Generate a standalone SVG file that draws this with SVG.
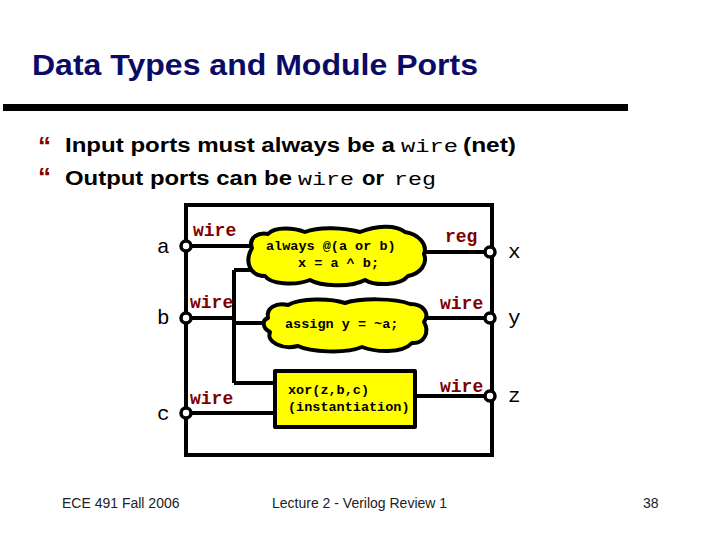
<svg xmlns="http://www.w3.org/2000/svg" width="720" height="540" viewBox="0 0 720 540">
<style>
.title{font-family:"Liberation Sans",Arial,sans-serif;font-weight:bold;font-size:30px;fill:#0b0b66}
.bul{font-family:"Liberation Sans",Arial,sans-serif;font-weight:bold;font-size:20px;fill:#000}
.bm{font-family:"Liberation Mono","Courier New",monospace;font-weight:normal;font-size:19px;fill:#000}
.mark{font-family:"Liberation Sans",Arial,sans-serif;font-weight:bold;font-size:26px;fill:#800000}
.foot{font-family:"Liberation Sans",Arial,sans-serif;font-size:14px;fill:#222}
.port{font-family:"Liberation Mono","Courier New",monospace;font-size:21px;fill:#000}
.lbl{font-family:"Liberation Mono","Courier New",monospace;font-weight:bold;font-size:18px;fill:#800000}
.code{font-family:"Liberation Mono","Courier New",monospace;font-weight:bold;font-size:13.5px;fill:#000}
.w{stroke:#000;stroke-width:4;fill:none}
.cloud{fill:#ffff00;stroke:#000;stroke-width:4;stroke-linejoin:round}
.pc{fill:#fff;stroke:#000;stroke-width:3.5}
</style>
<rect width="720" height="540" fill="#fff"/>
<text class="title" x="32" y="75" textLength="446" lengthAdjust="spacingAndGlyphs">Data Types and Module Ports</text>
<rect x="3" y="104" width="625" height="7" fill="#000"/>
<text class="mark" x="38" y="155">“</text>
<text class="bul" x="65" y="152" textLength="330" lengthAdjust="spacingAndGlyphs">Input ports must always be a</text>
<text class="bm" x="401" y="152" textLength="57" lengthAdjust="spacingAndGlyphs">wire</text>
<text class="bul" x="463" y="152" textLength="53" lengthAdjust="spacingAndGlyphs">(net)</text>
<text class="mark" x="38" y="186">“</text>
<text class="bul" x="65" y="185" textLength="227" lengthAdjust="spacingAndGlyphs">Output ports can be</text>
<text class="bm" x="298" y="185" textLength="56" lengthAdjust="spacingAndGlyphs">wire</text>
<text class="bul" x="362" y="185" textLength="22" lengthAdjust="spacingAndGlyphs">or</text>
<text class="bm" x="394" y="185" textLength="42" lengthAdjust="spacingAndGlyphs">reg</text>

<g id="connectors">
<rect id="module" class="w" x="186" y="205" width="306" height="250"/>
<path class="w" d="M186,246H262 M186,318H234 M234,270V383 M234,270H262 M234,323H272 M234,383H275 M186,413H275 M418,252H490 M420,318H490 M415,396H490"/>
</g>

<g id="cloud1">
<path class="cloud" d="M252,248 C248,238 258,232 268,234 C275,226 295,228 305,232 C320,226 345,228 360,232 C375,226 395,224 405,232 C418,234 428,244 424,254 C428,264 420,274 408,276 C400,286 375,286 365,280 C350,288 320,286 310,280 C295,286 270,284 265,276 C250,276 244,262 252,248 Z"/>
<text class="code" x="266" y="250">always @(a or b)</text>
<text class="code" x="298" y="267">x = a ^ b;</text>
</g>
<g id="cloud2">
<path class="cloud" d="M268,318 C266,308 276,302 288,305 C300,298 330,298 345,303 C360,298 395,298 410,304 C424,304 430,314 424,322 C430,332 424,344 412,343 C402,354 375,352 362,347 C345,354 310,352 298,346 C282,350 266,342 270,332 C262,328 262,320 268,318 Z"/>
<text class="code" x="285" y="328">assign y = ~a;</text>
</g>
<g id="xor">
<rect class="cloud" x="275" y="371" width="140" height="56" stroke-linejoin="miter"/>
<text class="code" x="288" y="394">xor(z,b,c)</text>
<text class="code" x="288" y="411">(instantiation)</text>
</g>

<g id="port-a"><circle class="pc" cx="186" cy="246" r="5"/><text class="port" x="157" y="253">a</text><text class="lbl" x="193" y="236">wire</text></g>
<g id="port-b"><circle class="pc" cx="186" cy="318" r="5"/><text class="port" x="157" y="324">b</text><text class="lbl" x="190" y="308">wire</text></g>
<g id="port-c"><circle class="pc" cx="186" cy="413" r="5"/><text class="port" x="157" y="420">c</text><text class="lbl" x="190" y="404">wire</text></g>
<g id="port-x"><circle class="pc" cx="490" cy="252" r="5"/><text class="port" x="508" y="258">x</text><text class="lbl" x="445" y="242">reg</text></g>
<g id="port-y"><circle class="pc" cx="490" cy="318" r="5"/><text class="port" x="508" y="324">y</text><text class="lbl" x="440" y="309">wire</text></g>
<g id="port-z"><circle class="pc" cx="490" cy="396" r="5"/><text class="port" x="508" y="402">z</text><text class="lbl" x="440" y="392">wire</text></g>

<text class="foot" x="62" y="508">ECE 491 Fall 2006</text>
<text class="foot" x="272" y="508">Lecture 2 - Verilog Review 1</text>
<text class="foot" x="643" y="508">38</text>
</svg>
